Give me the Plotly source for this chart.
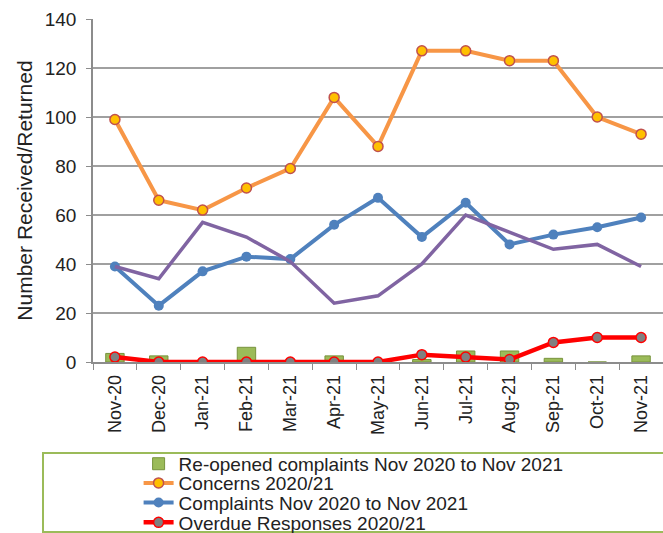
import plotly.graph_objects as go

months = ["Nov-20", "Dec-20", "Jan-21", "Feb-21", "Mar-21", "Apr-21", "May-21",
          "Jun-21", "Jul-21", "Aug-21", "Sep-21", "Oct-21", "Nov-21"]
reopened = [3.5, 2.5, 0.5, 6, 0.5, 2.5, 0.5, 1, 4.5, 4.5, 1.5, 0, 2.5]
concerns = [99, 66, 62, 71, 79, 108, 88, 127, 127, 123, 123, 100, 93]
complaints = [39, 23, 37, 43, 42, 56, 67, 51, 65, 48, 52, 55, 59]
overdue = [2, 0, 0, 0, 0, 0, 0, 3, 2, 1, 8, 10, 10]
other = [39, 34, 57, 51, 41, 24, 27, 40, 60, 53, 46, 48, 39]

TXT = "#222222"
fig = go.Figure()
fig.add_trace(go.Bar(x=months, y=reopened, name="Re-opened complaints Nov 2020 to Nov 2021",
                     marker=dict(color="#9BBB59", line=dict(color="#77933C", width=1)),
                     width=0.42, legend="legend"))
fig.add_trace(go.Scatter(x=months, y=concerns, name="Concerns 2020/21", mode="lines+markers",
                         line=dict(color="#F79646", width=4),
                         marker=dict(size=10, color="#FFC000", line=dict(color="#C0504D", width=1.5)),
                         legend="legend2"))
fig.add_trace(go.Scatter(x=months, y=complaints, name="Complaints Nov 2020 to Nov 2021", mode="lines+markers",
                         line=dict(color="#4F81BD", width=4),
                         marker=dict(size=10, color="#4F81BD"), legend="legend3"))
fig.add_trace(go.Scatter(x=months, y=other, name="", mode="lines", showlegend=False,
                         line=dict(color="#8064A2", width=3.5)))
fig.add_trace(go.Scatter(x=months, y=overdue, name="Overdue Responses 2020/21", mode="lines+markers",
                         line=dict(color="#FF0000", width=4.5),
                         marker=dict(size=10, color="#808080", line=dict(color="#FF0000", width=1.5)),
                         legend="legend4"))

def leg(y):
    return dict(x=0.08, y=y, xanchor="left", yanchor="middle",
                font=dict(size=19, color=TXT), bgcolor="rgba(0,0,0,0)", borderwidth=0)

fig.update_layout(
    width=663, height=533,
    margin=dict(l=93, r=0, t=19, b=171, autoexpand=False),
    plot_bgcolor="white", paper_bgcolor="white",
    font=dict(family="Liberation Sans, Arial, sans-serif", color=TXT),
    showlegend=True,
    legend=leg(-0.297), legend2=leg(-0.353), legend3=leg(-0.410), legend4=leg(-0.468),
    bargap=0.5,
)
fig.update_xaxes(type="category", range=[-0.5, 12.5], tickangle=-90,
                 tickfont=dict(size=18, color=TXT),
                 showline=True, linecolor="#8c8c8c", linewidth=1.5,
                 ticks="outside", tickson="boundaries", ticklen=6, tickcolor="#8c8c8c",
                 ticklabelstandoff=4, showgrid=False)
fig.update_yaxes(range=[0, 140], dtick=20, tickfont=dict(size=19, color=TXT),
                 showline=True, linecolor="#8c8c8c", linewidth=1.5,
                 ticks="outside", ticklen=5, tickcolor="#8c8c8c", ticklabelstandoff=6,
                 showgrid=True, gridcolor="#a0a0a0", gridwidth=1.5, zeroline=False,
                 title=dict(text="Number Received/Returned", font=dict(size=21, color=TXT), standoff=6))
fig.add_shape(type="rect", xref="paper", yref="paper",
              x0=-0.0877, x1=1.02, y0=-0.265, y1=-0.4956,
              line=dict(color="#9BBB59", width=2), fillcolor="rgba(0,0,0,0)")

fig.write_html("out.html", config={"displayModeBar": False},
               post_script="document.body.style.margin='0';document.body.style.overflow='hidden';")
